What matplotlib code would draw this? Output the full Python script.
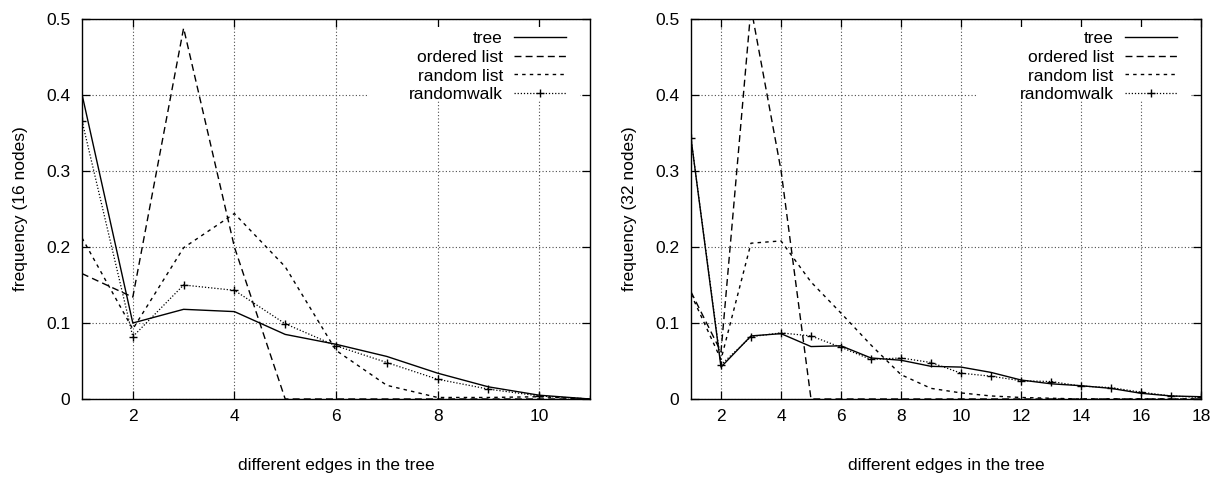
import matplotlib
matplotlib.use("Agg")
import matplotlib.pyplot as plt
from matplotlib.patches import Rectangle

plt.rcParams['font.family'] = ['Liberation Sans', 'DejaVu Sans']

# ---- data: 16 nodes ----
x16 = list(range(1, 12))
tree16 = [0.401, 0.100, 0.118, 0.115, 0.085, 0.072, 0.056, 0.034, 0.016, 0.005, 0.0]
ordered16 = [0.165, 0.134, 0.488, 0.200, 0.0, 0.0, 0.0, 0.0, 0.0, 0.0, 0.0]
random16 = [0.212, 0.092, 0.199, 0.244, 0.174, 0.064, 0.018, 0.002, 0.002, 0.003, 0.0]
walk16 = [0.366, 0.082, 0.150, 0.143, 0.099, 0.070, 0.048, 0.026, 0.013, 0.004, 0.0]

# ---- data: 32 nodes ----
x32 = list(range(1, 19))
tree32 = [0.343, 0.042, 0.083, 0.086, 0.069, 0.070, 0.054, 0.051, 0.043, 0.042,
          0.035, 0.025, 0.020, 0.0175, 0.014, 0.0075, 0.004, 0.003]
ordered32 = [0.141, 0.062, 0.515, 0.301, 0.0, 0.0, 0.0, 0.0, 0.0, 0.0,
             0.0, 0.0, 0.0, 0.0, 0.0, 0.0, 0.0, 0.0]
random32 = [0.138, 0.052, 0.205, 0.208, 0.154, 0.113, 0.071, 0.032, 0.014, 0.008,
            0.004, 0.002, 0.001, 0.0, 0.0, 0.0, 0.0, 0.0]
walk32 = [0.343, 0.045, 0.082, 0.087, 0.083, 0.068, 0.052, 0.054, 0.048, 0.034,
          0.030, 0.024, 0.023, 0.017, 0.015, 0.009, 0.004, 0.002]

labels = ["tree", "ordered list", "random list", "randomwalk"]
xlabel = "different edges in the tree"
ylabels = ["frequency (16 nodes)", "frequency (32 nodes)"]
yticks = [0, 0.1, 0.2, 0.3, 0.4, 0.5]
ytick_labels = ["0", "0.1", "0.2", "0.3", "0.4", "0.5"]
xticks16 = [2, 4, 6, 8, 10]
xticks32 = [2, 4, 6, 8, 10, 12, 14, 16, 18]

FS = 12.5
W, H = 1223, 478
fig = plt.figure(figsize=(W / 100, H / 100), dpi=100)

def px_axes(x0, x1, ytop, ybot):
    return fig.add_axes([x0 / W, (H - ybot) / H, (x1 - x0) / W, (ybot - ytop) / H])

ax1 = px_axes(82, 590, 19, 399)
ax2 = px_axes(691, 1201, 19, 399)

panels = [
    (ax1, x16, [tree16, ordered16, random16, walk16], (1, 11), xticks16, ylabels[0]),
    (ax2, x32, [tree32, ordered32, random32, walk32], (1, 18), xticks32, ylabels[1]),
]

for ax, xs, series, xlim, xt, yl in panels:
    ax.set_axisbelow(True)
    ax.set_xlim(*xlim)
    ax.set_ylim(0, 0.5)
    ax.set_xticks(xt)
    ax.set_xticklabels([str(v) for v in xt])
    ax.set_yticks(yticks)
    ax.set_yticklabels(ytick_labels)
    ax.tick_params(direction='in', length=6, width=0.9, top=True, right=True,
                   labelsize=FS, colors='black')
    ax.tick_params(axis='y', pad=8.5)
    ax.tick_params(axis='x', pad=7.5)
    ax.grid(True, color='0.3', linewidth=0.8, linestyle=(0, (1, 2)))
    for s in ax.spines.values():
        s.set_linewidth(1.0)
        s.set_color('black')

    # white key box as in gnuplot
    ax.add_patch(Rectangle((0.563, 0.787), 0.417, 0.192, transform=ax.transAxes,
                           facecolor='white', edgecolor='none', zorder=1))

    t, o, r, w = series
    l1, = ax.plot(xs, t, color='black', lw=1.0, linestyle='-', zorder=3)
    l2, = ax.plot(xs, o, color='black', lw=1.0, linestyle=(0, (5, 3)), zorder=3)
    l3, = ax.plot(xs, r, color='black', lw=1.0, linestyle=(0, (2.5, 3)), zorder=3)
    l4, = ax.plot(xs, w, color='black', lw=0.9, linestyle=(0, (1, 1.5)),
                  marker='+', markersize=6, markeredgewidth=1.0, zorder=3)

    ax.set_xlabel(xlabel, fontsize=FS, labelpad=24)
    ax.set_ylabel(yl, fontsize=FS, labelpad=13)

    ax.legend([l1, l2, l3, l4], labels, loc='upper right',
              bbox_to_anchor=(0.953, 0.968), borderpad=0, borderaxespad=0,
              frameon=False, markerfirst=False, fontsize=FS,
              handlelength=3.0, handletextpad=0.65, labelspacing=0.2,
              numpoints=1)

fig.savefig("out.png", dpi=100)
